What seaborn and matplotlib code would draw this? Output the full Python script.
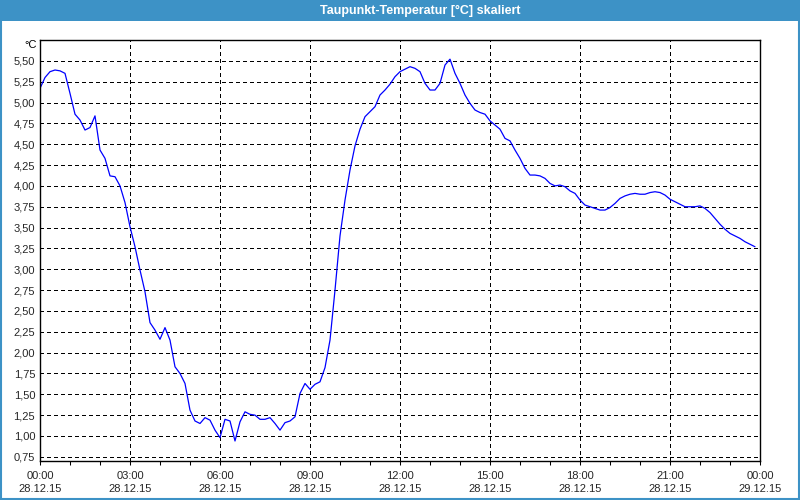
import matplotlib
matplotlib.use("Agg")
import matplotlib.pyplot as plt
import matplotlib.dates as mdates
from matplotlib.patches import Rectangle
from matplotlib.ticker import FuncFormatter
import numpy as np
import pandas as pd
import seaborn as sns

# ---- data (10-minute samples starting 28.12.15 00:00) ----
title = "Taupunkt-Temperatur [°C] skaliert"
unit_label = "°C"
start_time = "2015-12-28 00:00"
end_time = "2015-12-29 00:00"
dew_point = [
    5.17, 5.30, 5.37, 5.39, 5.38, 5.35, 5.11, 4.86, 4.79, 4.67,
    4.70, 4.84, 4.43, 4.33, 4.12, 4.11, 4.00, 3.80, 3.51, 3.27,
    2.99, 2.73, 2.36, 2.27, 2.16, 2.30, 2.15, 1.83, 1.75, 1.63,
    1.31, 1.18, 1.15, 1.22, 1.19, 1.07, 0.98, 1.20, 1.18, 0.94,
    1.17, 1.29, 1.26, 1.25, 1.20, 1.20, 1.22, 1.15, 1.07, 1.16,
    1.18, 1.23, 1.51, 1.63, 1.56, 1.62, 1.65, 1.82, 2.15, 2.75,
    3.40, 3.83, 4.19, 4.48, 4.68, 4.83, 4.89, 4.95, 5.09, 5.15,
    5.22, 5.31, 5.37, 5.40, 5.43, 5.41, 5.37, 5.23, 5.15, 5.15,
    5.23, 5.45, 5.52, 5.35, 5.23, 5.09, 4.99, 4.91, 4.88, 4.86,
    4.78, 4.73, 4.68, 4.57, 4.54, 4.43, 4.33, 4.21, 4.13, 4.13,
    4.12, 4.09, 4.03, 4.00, 4.01, 3.99, 3.94, 3.91, 3.83, 3.77,
    3.75, 3.73, 3.71, 3.71, 3.74, 3.79, 3.85, 3.88, 3.90, 3.91,
    3.90, 3.90, 3.92, 3.93, 3.92, 3.89, 3.84, 3.81, 3.78, 3.75,
    3.75, 3.75, 3.76, 3.73, 3.68, 3.61, 3.54, 3.48, 3.43, 3.40,
    3.37, 3.33, 3.30, 3.27,
]
y_ticks = [0.75, 1.00, 1.25, 1.50, 1.75, 2.00, 2.25, 2.50, 2.75, 3.00,
           3.25, 3.50, 3.75, 4.00, 4.25, 4.50, 4.75, 5.00, 5.25, 5.50]

times = pd.date_range(start_time, periods=len(dew_point), freq="10min")
df = pd.DataFrame({"time": times, "value": dew_point})

# ---- styling ----
sns.set_theme(style="white")
plt.rcParams["font.family"] = ["Liberation Sans", "DejaVu Sans"]
plt.rcParams["axes.unicode_minus"] = False

BLUE_BAR = "#3d92c6"

fig = plt.figure(figsize=(8, 5), dpi=100, facecolor="white")
W, H = 800, 500
ax_l, ax_r, ax_t, ax_b = 40, 760, 40, 461
ax = fig.add_axes([ax_l / W, (H - ax_b) / H, (ax_r - ax_l) / W, (ax_b - ax_t) / H])
ax.set_facecolor("white")

sns.lineplot(data=df, x="time", y="value", ax=ax, color="#0000ff",
             linewidth=0.9, legend=False)

ax.set_xlim(pd.Timestamp(start_time), pd.Timestamp(end_time))
ax.set_ylim(0.70, 5.75)

# grid
grid_kw = dict(color="black", linewidth=0.75, linestyle=(0, (3, 3)), zorder=0,
               antialiased=False)
for yv in y_ticks:
    ax.axhline(yv, **grid_kw)
for h in range(3, 24, 3):
    ax.axvline(pd.Timestamp(start_time) + pd.Timedelta(hours=h), **grid_kw)

# axes & ticks
ax.set_yticks(y_ticks)
ax.yaxis.set_major_formatter(FuncFormatter(lambda v, p: f"{v:.2f}".replace(".", ",")))
ax.xaxis.set_major_locator(mdates.HourLocator(byhour=range(0, 24, 3)))
ax.xaxis.set_minor_locator(mdates.HourLocator())
ax.xaxis.set_major_formatter(mdates.DateFormatter("%H:%M\n%d.%m.%y"))
ax.tick_params(axis="x", which="both", direction="out", length=3, width=0.75,
               color="black", labelsize=8, pad=4, bottom=True)
ax.tick_params(axis="y", length=0, labelsize=8, pad=3.5)
for lbl in ax.get_xticklabels():
    lbl.set_linespacing(1.45)
for sp in ax.spines.values():
    sp.set_visible(True)
    sp.set_color("black")
    sp.set_linewidth(1.0)
ax.set_xlabel("")
ax.set_ylabel("")

# unit label
fig.text(37 / W, (H - 45) / H, unit_label, ha="right", va="center", fontsize=8,
         color="black")

# title bar
fig.patches.append(Rectangle((0, (H - 21) / H), 1, 21 / H, transform=fig.transFigure,
                             facecolor=BLUE_BAR, edgecolor="none", zorder=0))
fig.patches.append(Rectangle((1 / W, 1 / H), (W - 2) / W, (H - 2) / H,
                             transform=fig.transFigure, facecolor="none",
                             edgecolor=BLUE_BAR, linewidth=1.5, zorder=1))
fig.text(420 / W, (H - 10.5) / H, title, ha="center", va="center", fontsize=9,
         fontweight="bold", color="white",
         family=["Liberation Sans Narrow", "Liberation Sans", "DejaVu Sans"])

fig.savefig("out.png", dpi=100, facecolor="white")
